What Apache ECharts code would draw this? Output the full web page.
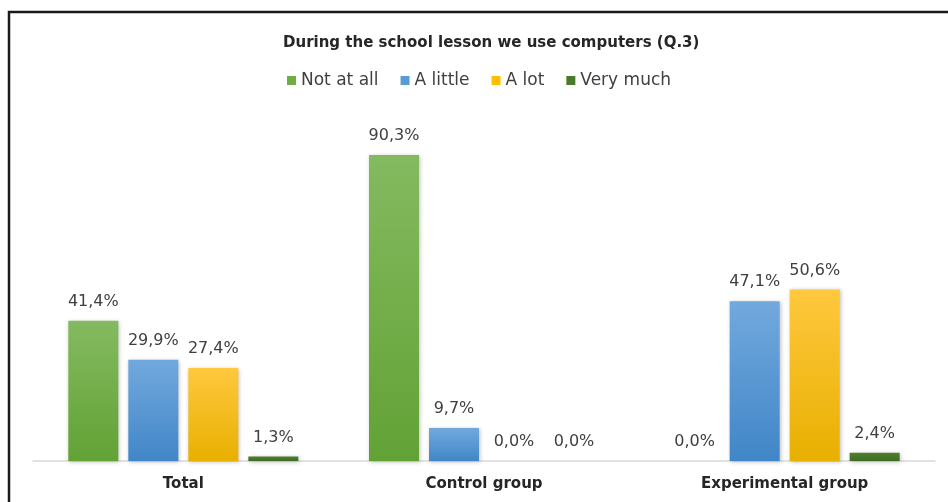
<!DOCTYPE html>
<html>
<head>
<meta charset="utf-8">
<script src="https://cdn.jsdelivr.net/npm/echarts@6/dist/echarts.min.js"></script>
<style>
html,body{margin:0;padding:0;background:#fff;}
#chart{width:948px;height:502px;}
</style>
</head>
<body>
<div id="chart"></div>
<script>
const categories = ['Total', 'Control group', 'Experimental group'];
const seriesNames = ['Not at all', 'A little', 'A lot', 'Very much'];
const notAtAll = [41.4, 90.3, 0.0];
const aLittle = [29.9, 9.7, 47.1];
const aLot = [27.4, 0.0, 50.6];
const veryMuch = [1.3, 0.0, 2.4];
const titleText = 'During the school lesson we use computers (Q.3)';

const values = [notAtAll, aLittle, aLot, veryMuch];
const legendColors = ['#70ad47', '#5b9bd5', '#ffc000', '#4a7a2c'];
const gradients = [
  ['#84ba60', '#62a235'],
  ['#72a9dd', '#4186c8'],
  ['#ffc83e', '#e8b000'],
  ['#4f7f31', '#3e6b25']
];

const chart = echarts.init(document.getElementById('chart'));
const fmt = p => p.value.toFixed(1).replace('.', ',') + '%';

chart.setOption({
  backgroundColor: '#fff',
  animation: false,
  title: {
    text: titleText,
    left: 278,
    top: 31,
    textStyle: { fontFamily: 'DejaVu Sans', fontWeight: 'bold', fontSize: 15, color: '#262626' }
  },
  legend: {
    top: 67,
    left: 282,
    itemWidth: 9,
    itemHeight: 9,
    itemGap: 22,
    icon: 'rect',
    textStyle: { fontFamily: 'DejaVu Sans', fontSize: 17, color: '#404040' },
    data: seriesNames.map((n, i) => ({ name: n, itemStyle: { color: legendColors[i] } }))
  },
  grid: { left: 33, right: 13, top: 122, bottom: 41 },
  xAxis: {
    type: 'category',
    data: categories,
    axisLine: { lineStyle: { color: '#d9d9d9', width: 1.5 } },
    axisTick: { show: false },
    axisLabel: { fontFamily: 'DejaVu Sans', fontWeight: 'bold', fontSize: 15, color: '#262626', margin: 16 }
  },
  yAxis: {
    type: 'value',
    min: 0,
    max: 100,
    show: false,
    splitLine: { show: false }
  },
  series: values.map((arr, i) => ({
    name: seriesNames[i],
    type: 'bar',
    data: arr,
    barWidth: 50,
    barGap: '20%',
    itemStyle: {
      color: new echarts.graphic.LinearGradient(0, 0, 0, 1, [
        { offset: 0, color: gradients[i][0] },
        { offset: 1, color: gradients[i][1] }
      ]),
      shadowBlur: 4,
      shadowColor: 'rgba(0,0,0,0.25)',
      shadowOffsetX: 1,
      shadowOffsetY: 1
    },
    label: {
      show: true,
      position: 'top',
      distance: 11,
      formatter: fmt,
      fontFamily: 'DejaVu Sans',
      fontSize: 16,
      color: '#404040'
    }
  })),
  graphic: [{
    type: 'polyline',
    shape: { points: [[9, 502], [9, 12], [948, 12]] },
    style: { stroke: '#1a1a1a', lineWidth: 2.5, fill: null },
    silent: true
  }]
});
</script>
</body>
</html>
